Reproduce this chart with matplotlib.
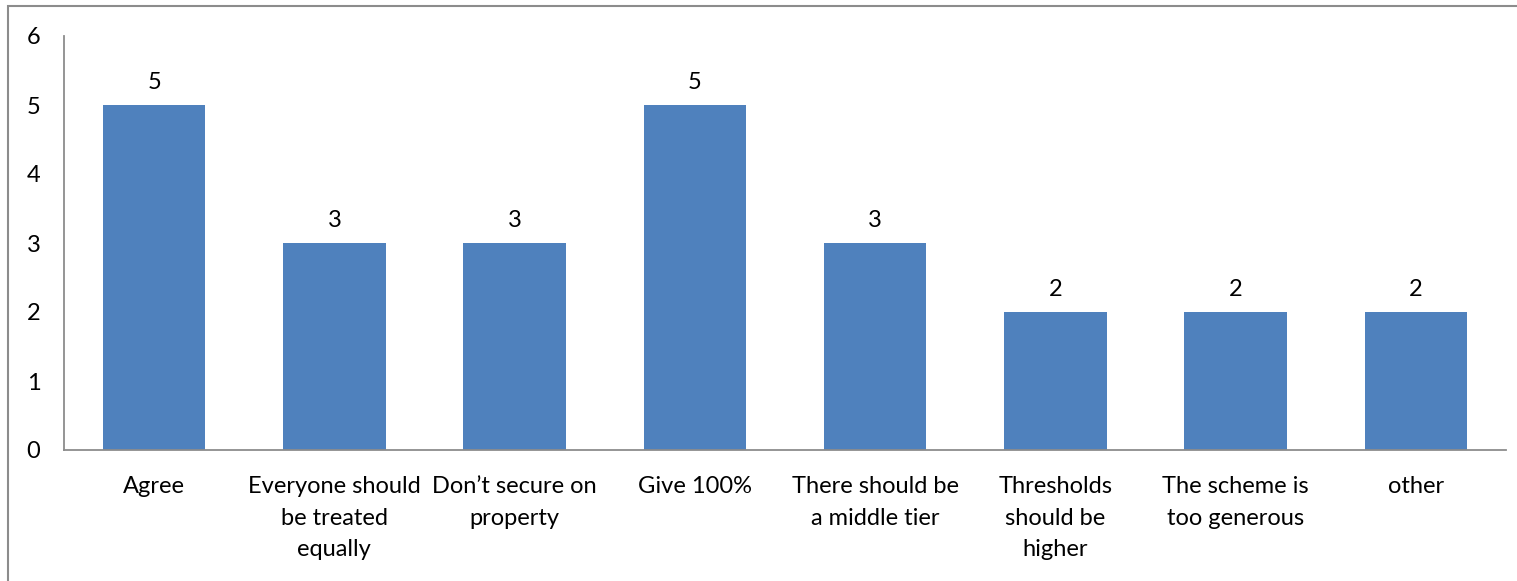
import matplotlib
matplotlib.use("Agg")
import matplotlib.pyplot as plt
from matplotlib.patches import Rectangle

categories = [
    "Agree",
    "Everyone should\nbe treated\nequally",
    "Don\u2019t secure on\nproperty",
    "Give 100%",
    "There should be\na middle tier",
    "Thresholds\nshould be\nhigher",
    "The scheme is\ntoo generous",
    "other",
]
counts = [5, 3, 3, 5, 3, 2, 2, 2]
y_ticks = [0, 1, 2, 3, 4, 5, 6]

W, H = 1517, 581
fig = plt.figure(figsize=(W / 100, H / 100), dpi=100)
plt.rcParams["font.family"] = ["Lato", "DejaVu Sans"]
FS = 17

# chart border (open on the right and bottom)
fig.patches.append(Rectangle((8 / W, -0.1), 1.2, (H - 6) / H + 0.1,
                             transform=fig.transFigure, fill=False,
                             edgecolor="#8c8c8c", linewidth=1.5))

left, right = 64 / W, 1506 / W
bottom, top = 1 - 450 / H, 1 - 36 / H
ax = fig.add_axes([left, bottom, right - left, top - bottom])

x = list(range(len(categories)))
ax.bar(x, counts, width=0.57, color="#4f81bd", zorder=2)
for xi, v in zip(x, counts):
    ax.text(xi, v + 0.18, str(v), ha="center", va="bottom", fontsize=FS, color="black")

ax.set_xlim(-0.5, len(categories) - 0.5)
ax.set_ylim(0, 6)
ax.set_yticks(y_ticks)
ax.set_yticklabels([str(t) for t in y_ticks], fontsize=FS)
ax.set_xticks(x)
ax.set_xticklabels(categories, fontsize=FS, linespacing=1.6, va="top")
ax.tick_params(axis="both", length=0)
ax.tick_params(axis="y", pad=17)
ax.tick_params(axis="x", pad=19)
for s in ["top", "right"]:
    ax.spines[s].set_visible(False)
for s in ["left", "bottom"]:
    ax.spines[s].set_color("#8c8c8c")
    ax.spines[s].set_linewidth(1.3)

fig.savefig("out.png", dpi=100)
